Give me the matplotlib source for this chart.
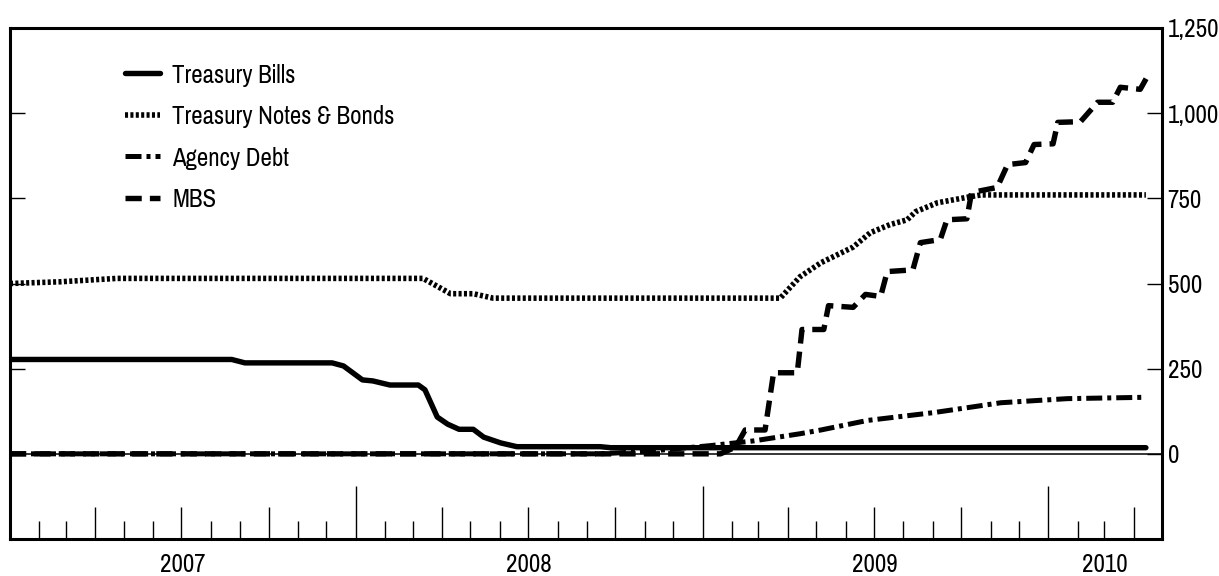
import matplotlib
matplotlib.use("Agg")
import matplotlib.pyplot as plt
import matplotlib.dates as mdates
import matplotlib.ticker as mticker
import pandas as pd

plt.rcParams['font.family'] = ['Pragati Narrow', 'Archivo Narrow', 'Liberation Sans', 'DejaVu Sans']

# ---- data (billions of dollars) ----
bills_dates = ["2007-01-01", "2007-08-23", "2007-09-06", "2007-12-07", "2007-12-19",
               "2008-01-08", "2008-01-19", "2008-02-06", "2008-03-07", "2008-03-14",
               "2008-03-27", "2008-04-07", "2008-04-19", "2008-05-04", "2008-05-15",
               "2008-06-02", "2008-06-19", "2008-09-15", "2008-09-26", "2010-04-14"]
bills_vals = [277, 277, 267, 267, 258, 217, 214, 202, 202, 188,
              108, 87, 72, 72, 49, 32, 21, 21, 18, 18]

notes_dates = ["2007-01-01", "2007-02-23", "2007-04-24", "2008-03-12", "2008-04-10",
               "2008-05-04", "2008-05-25", "2009-03-24", "2009-04-14", "2009-05-06",
               "2009-06-09", "2009-06-27", "2009-07-18", "2009-08-05", "2009-08-14",
               "2009-09-06", "2009-10-11", "2009-10-22", "2010-04-14"]
notes_vals = [500, 505, 515, 515, 470, 470, 457, 457, 520, 561,
              607, 649, 673, 687, 711, 737, 755, 760, 760]

agency_dates = ["2007-01-01", "2008-09-15", "2008-11-07", "2009-01-09", "2009-02-24",
                "2009-04-14", "2009-05-06", "2009-06-24", "2009-09-02", "2009-11-12",
                "2010-01-21", "2010-04-14"]
agency_vals = [0, 0, 8, 24, 38, 59, 70, 98, 121, 150, 162, 166]

mbs_dates = ["2007-01-01", "2009-01-20", "2009-02-05", "2009-02-15", "2009-03-08",
             "2009-03-17", "2009-04-11", "2009-04-16", "2009-05-09", "2009-05-14",
             "2009-06-09", "2009-06-22", "2009-07-08", "2009-07-15", "2009-08-11",
             "2009-08-19", "2009-09-09", "2009-09-16", "2009-10-07", "2009-10-12",
             "2009-11-08", "2009-11-19", "2009-12-08", "2009-12-17", "2010-01-06",
             "2010-01-11", "2010-02-04", "2010-02-22", "2010-03-10", "2010-03-18",
             "2010-04-08", "2010-04-15"]
mbs_vals = [0, 0, 20, 70, 70, 238, 238, 365, 365, 435,
            430, 468, 462, 535, 540, 620, 629, 687, 690, 767,
            782, 849, 855, 908, 910, 973, 975, 1032, 1032, 1076,
            1070, 1105]

series_labels = ["Treasury Bills", "Treasury Notes & Bonds", "Agency Debt", "MBS"]
year_labels = ["2007", "2008", "2009", "2010"]
y_ticks = [0, 250, 500, 750, 1000, 1250]

FS = 19.5

# ---- figure ----
fig = plt.figure(figsize=(12.19, 5.76), dpi=100)
ax = fig.add_axes([10 / 1219, 1 - 539 / 576, 1152 / 1219, 511 / 576])

ax.axhline(0, color='black', lw=1.1, zorder=1)

d = pd.to_datetime
ax.plot(d(bills_dates), bills_vals, color='black', lw=3.9,
        solid_capstyle='round', solid_joinstyle='round', label=series_labels[0], zorder=3)
l2, = ax.plot(d(notes_dates), notes_vals, color='black', lw=4.0,
              dash_capstyle='butt', label=series_labels[1], zorder=3)
l2.set_dashes((0.55, 0.42))
l3, = ax.plot(d(agency_dates), agency_vals, color='black', lw=3.6,
              dash_capstyle='butt', label=series_labels[2], zorder=3)
l3.set_dashes((3.2, 1.0, 0.8, 1.0))
l4, = ax.plot(d(mbs_dates), mbs_vals, color='black', lw=3.9,
              dash_capstyle='butt', label=series_labels[3], zorder=3)
l4.set_dashes((3.0, 1.5))

ax.set_xlim(d("2007-01-01"), d("2010-05-01"))
ax.set_ylim(-250, 1250)

for s in ax.spines.values():
    s.set_linewidth(2.2)

# y axis
ax.set_yticks(y_ticks)
ax.yaxis.set_major_formatter(mticker.FuncFormatter(lambda v, p: f"{int(v):,}"))
ax.tick_params(axis='y', which='major', left=True, right=True, labelleft=False,
               labelright=True, direction='in', length=11, width=1.0,
               labelsize=FS, pad=4)

# x axis: year ticks long, month ticks short
ax.xaxis.set_major_locator(mdates.YearLocator())
ax.xaxis.set_minor_locator(mdates.MonthLocator(bymonth=[2, 3, 5, 6, 8, 9, 11, 12]))
ax.xaxis.set_major_formatter(mticker.NullFormatter())
ax.tick_params(axis='x', which='major', direction='in', length=38, width=1.0,
               labelbottom=False)
ax.tick_params(axis='x', which='minor', direction='in', length=13, width=1.0)

# quarterly ticks
sec = ax.secondary_xaxis('bottom')
sec.xaxis.set_major_locator(mdates.MonthLocator(bymonth=[4, 7, 10]))
sec.xaxis.set_major_formatter(mticker.NullFormatter())
sec.tick_params(axis='x', direction='in', length=23, width=1.0)
sec.spines['bottom'].set_visible(False)

# year labels centered in each (visible) year
lab = ax.secondary_xaxis('bottom')
centers = [d("2007-07-02"), d("2008-07-02"), d("2009-07-02"),
           d("2010-01-01") + (d("2010-05-01") - d("2010-01-01")) / 2]
lab.set_xticks([mdates.date2num(c) for c in centers])
lab.set_xticklabels(year_labels)
lab.tick_params(axis='x', length=0, labelsize=FS, pad=10)
lab.spines['bottom'].set_visible(False)

leg = ax.legend(loc='upper left', bbox_to_anchor=(0.0998, 0.93), frameon=False,
                fontsize=FS, handlelength=1.3, handletextpad=0.45,
                labelspacing=0.68, borderpad=0, borderaxespad=0)

fig.savefig("out.png", dpi=100)
